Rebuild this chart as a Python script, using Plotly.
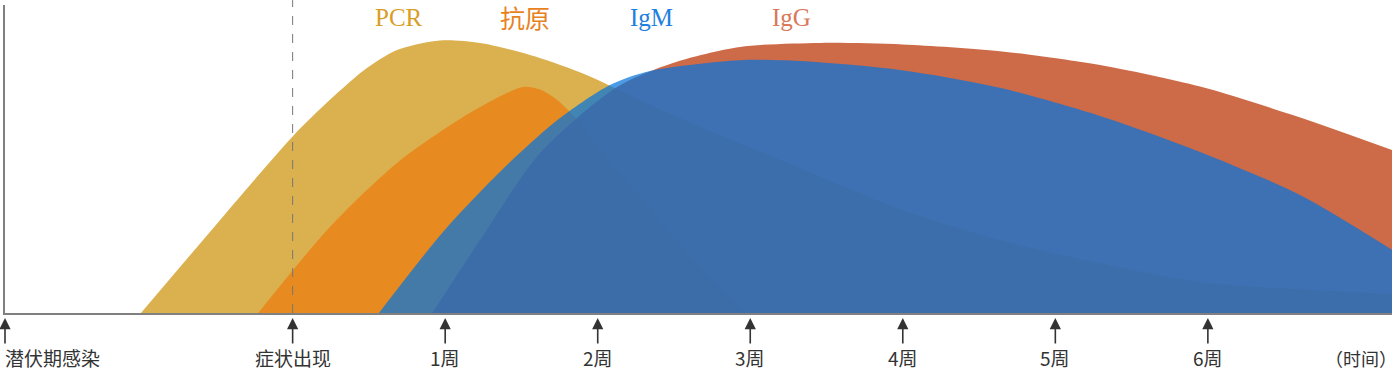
import plotly.graph_objects as go

# ---- data (x in days relative to symptom onset, y in relative level 0-100) ----
pcr_x = [-6.96, -3.52, -0.03, 1.71, 3.23, 4.79, 6.76, 8.60, 10.89, 13.18, 17.45, 23.28,
         27.87, 32.46, 37.05, 41.64, 50.45]
pcr_y = [0, 28.6, 57.1, 69.2, 78.6, 85.4, 88.5, 87.7, 83.8, 78.2, 64.3, 47.1,
         33.8, 23.7, 16.2, 10.1, 6.2]

ag_x = [-1.58, 1.71, 4.79, 7.82, 9.6, 10.57, 11.4, 12.13, 13.18, 14.10, 16.07, 18.37, 20.76]
ag_y = [0, 27.9, 48.7, 63.6, 70.6, 73.4, 72.4, 69.2, 61.7, 52.9, 36.7, 17.2, 0]

igg_x = [6.41, 8.60, 11.35, 14.89, 17.45, 20.53, 24.2, 28.0, 32.46, 37.05, 41.64, 46.10, 50.45]
igg_y = [0, 23.7, 51.9, 73.4, 81.2, 86.4, 87.7, 87.2, 85.0, 80.5, 73.5, 63.8, 52.9]

igm_x = [3.96, 6.90, 9.51, 12.04, 14.56, 16.40, 20.53, 23.28, 27.87, 32.46, 37.05, 41.64,
         46.23, 50.45]
igm_y = [0, 26.3, 45.8, 62.0, 74.0, 78.6, 82.1, 81.8, 78.9, 73.1, 64.0, 52.3, 38.3, 20.5]

marker_days = [-13.2, 0, 7, 14, 21, 28, 35, 42]
marker_labels = ["潜伏期感染", "症状出现", "1周", "2周", "3周", "4周", "5周", "6周"]
axis_title = "（时间）"

series_names = ["PCR", "抗原", "IgM", "IgG"]
series_label_days = [4.9, 10.66, 16.45, 22.9]

x_range = [-13.2, 50.45]
y_range = [0, 100]

# ---- styles ----
fills = {
    "PCR": "rgba(219,176,78,1)",
    "抗原": "rgba(231,138,32,1)",
    "IgG": "rgba(196,80,40,0.85)",
    "IgM": "rgba(5,116,221,0.72)",
}
label_colors = ["#d99e28", "#e8821e", "#1f80e0", "#d9785a"]

fig = go.Figure()
for name, xs, ys in [("PCR", pcr_x, pcr_y), ("抗原", ag_x, ag_y),
                     ("IgG", igg_x, igg_y), ("IgM", igm_x, igm_y)]:
    fig.add_trace(go.Scatter(
        x=xs, y=ys, mode="lines", name=name,
        line=dict(width=0, shape="spline", smoothing=0.8),
        fill="tozeroy", fillcolor=fills[name], hoverinfo="skip",
    ))

# dashed symptom-onset line
fig.add_shape(type="line", xref="x", yref="paper", x0=marker_days[1], x1=marker_days[1],
              y0=0, y1=1.016, line=dict(color="#777777", width=1, dash="dash"), layer="above")

# arrows + labels
for d, lab in zip(marker_days, marker_labels):
    fig.add_annotation(x=d, y=-0.016, xref="x", yref="paper", text="", showarrow=True,
                       ax=0, ay=27, arrowhead=2, arrowsize=1.4, arrowwidth=1.6,
                       arrowcolor="#333333", standoff=0, startstandoff=0)
    first = d == marker_days[0]
    fig.add_annotation(x=d, y=-0.146, xref="x", yref="paper", text=lab, showarrow=False,
                       xanchor="left" if first else "center", yanchor="middle",
                       xshift=-2 if first else 0,
                       font=dict(family="Noto Sans CJK SC", size=19, color="#333333"))

fig.add_annotation(x=1, y=-0.146, xref="paper", yref="paper", text=axis_title,
                   showarrow=False, xanchor="right", yanchor="middle", xshift=7,
                   font=dict(family="Noto Sans CJK SC", size=18, color="#333333"))

for name, d, c in zip(series_names, series_label_days, label_colors):
    cjk = name == "抗原"
    fam = "Noto Sans CJK SC" if cjk else "Liberation Serif"
    size = 25
    fig.add_annotation(x=d, y=0.961, xref="x", yref="paper", text=name, showarrow=False,
                       xanchor="center", yanchor="middle", font=dict(family=fam, size=size, color=c))

fig.update_layout(
    width=1400, height=374, margin=dict(l=5, r=8, t=5, b=61),
    paper_bgcolor="white", plot_bgcolor="white", showlegend=False,
    xaxis=dict(range=x_range, showline=True, linecolor="#808080", linewidth=2,
               showgrid=False, zeroline=False, showticklabels=False, ticks=""),
    yaxis=dict(range=y_range, showline=True, linecolor="#808080", linewidth=2,
               showgrid=False, zeroline=False, showticklabels=False, ticks=""),
)

fig.write_html("out.html")
